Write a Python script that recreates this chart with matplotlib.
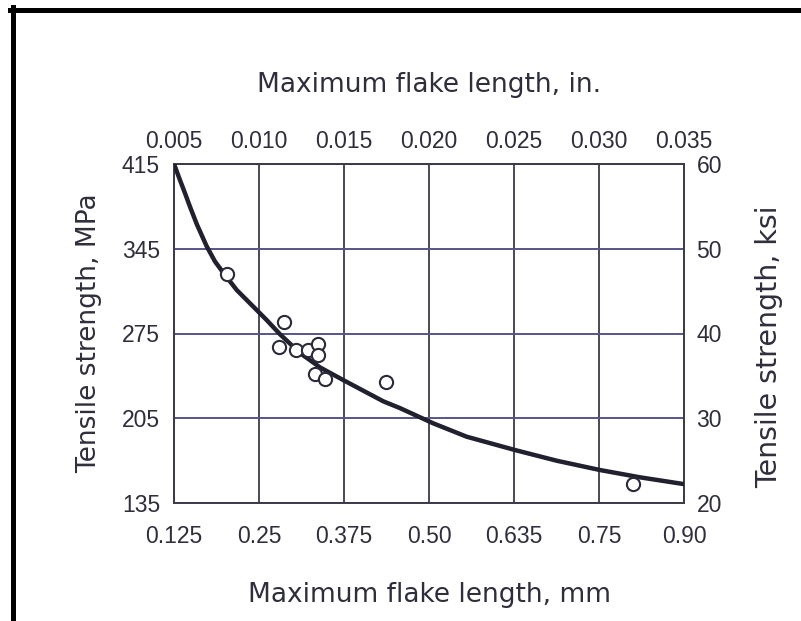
import matplotlib.pyplot as plt
from matplotlib.lines import Line2D

# flake length (in.) vs tensile strength (ksi), measured specimens
flake_in = [0.0081, 0.0115, 0.0112, 0.0122, 0.0129, 0.0135, 0.0135,
            0.0133, 0.0139, 0.0175, 0.0320]
strength_ksi = [47.0, 41.3, 38.4, 38.0, 38.1, 38.8, 37.5,
                35.2, 34.6, 34.3, 22.2]

# trend curve read along its length
curve_in = [0.0050, 0.00535, 0.00565, 0.00594, 0.00634, 0.00692, 0.00741,
            0.0080, 0.00869, 0.00967, 0.01045, 0.01124, 0.01241, 0.01359,
            0.01496, 0.01731, 0.01829, 0.02025, 0.02222, 0.02506, 0.02751,
            0.03006, 0.03241, 0.03496]
curve_ksi = [60.0, 58.11, 56.54, 54.96, 52.9, 50.3, 48.5,
             46.9, 45.13, 43.16, 41.59, 39.9, 37.7, 36.0,
             34.5, 32.0, 31.2, 29.4, 27.82, 26.25, 24.99,
             23.89, 23.03, 22.24]

in_ticks = [0.005, 0.010, 0.015, 0.020, 0.025, 0.030, 0.035]
in_labels = ["0.005", "0.010", "0.015", "0.020", "0.025", "0.030", "0.035"]
mm_labels = ["0.125", "0.25", "0.375", "0.50", "0.635", "0.75", "0.90"]
ksi_ticks = [20, 30, 40, 50, 60]
ksi_labels = ["20", "30", "40", "50", "60"]
mpa_labels = ["135", "205", "275", "345", "415"]

ink = "#2e2e3c"
tick_font = dict(family=["Liberation Sans", "DejaVu Sans"], size=16.5, color=ink)
label_font = dict(family=["DejaVu Sans"], size=19, color=ink)

fig = plt.figure(figsize=(8.01, 6.21), dpi=100)
ax = fig.add_axes([174 / 801, 118 / 621, 510 / 801, 339 / 621])

for x in in_ticks:
    ax.axvline(x, color="#4a4a56", lw=1.4, zorder=1)
for y in ksi_ticks:
    ax.axhline(y, color="#55558a", lw=1.4, zorder=1)

ax.plot(curve_in, curve_ksi, color="#20202e", lw=3.2, zorder=3,
        solid_capstyle="round", solid_joinstyle="round")
ax.plot(flake_in, strength_ksi, "o", ms=9.5, mfc="white", mec="#2a2a3a",
        mew=1.5, zorder=4, linestyle="none")

ax.set_xlim(0.005, 0.035)
ax.set_ylim(20, 60)
for s in ax.spines.values():
    s.set_color("#3a3a48")
    s.set_linewidth(1.4)

# bottom / left: metric labels
ax.set_xticks(in_ticks)
ax.set_xticklabels(mm_labels, fontdict=tick_font)
ax.set_yticks(ksi_ticks)
ax.set_yticklabels(mpa_labels, fontdict=tick_font)
ax.tick_params(axis="x", length=0, pad=16)
ax.tick_params(axis="y", length=0, pad=10)
ax.set_xlabel("Maximum flake length, mm", fontdict=label_font, labelpad=24)
ax.set_ylabel("Tensile strength, MPa", fontdict=label_font, labelpad=14)

# top / right: imperial labels
top = ax.secondary_xaxis("top")
top.set_xticks(in_ticks)
top.set_xticklabels(in_labels, fontdict=tick_font)
top.tick_params(length=0, pad=8)
top.spines["top"].set_visible(False)
top.set_xlabel("Maximum flake length, in.", fontdict=label_font, labelpad=27)

right = ax.secondary_yaxis("right")
right.set_yticks(ksi_ticks)
right.set_yticklabels(ksi_labels, fontdict=tick_font)
right.tick_params(length=0, pad=9)
right.spines["right"].set_visible(False)
right.set_ylabel("Tensile strength, ksi", fontdict=dict(label_font, size=20.5),
                 labelpad=24)
right.yaxis.label.set_y(0.46)

# heavy frame along the top and left edges
fig.add_artist(Line2D([10 / 801, 1], [1 - 9.5 / 621] * 2, color="black", lw=3.6))
fig.add_artist(Line2D([12.5 / 801] * 2, [0, 1 - 7 / 621], color="black", lw=3.6))

fig.savefig("out.png", dpi=100)
